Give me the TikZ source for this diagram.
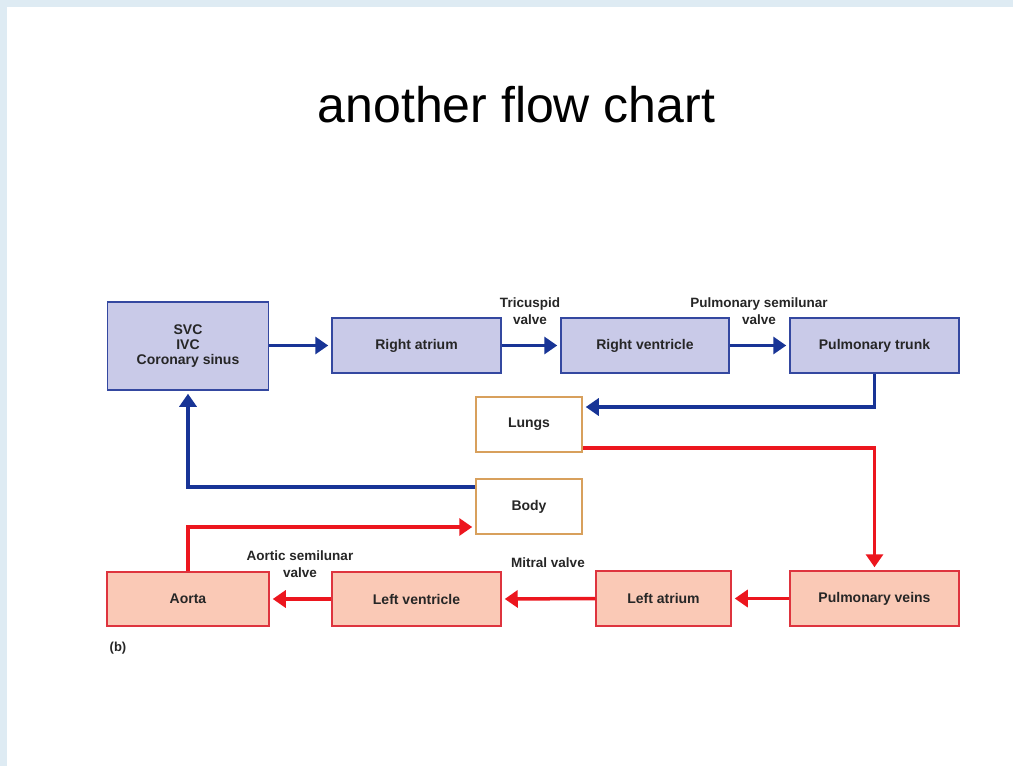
\documentclass[tikz,border=0pt]{standalone}
\usepackage{fontspec}
\setmainfont{Liberation Sans}
\usetikzlibrary{arrows.meta}
\definecolor{bgstrip}{RGB}{222,235,243}
\definecolor{bluefill}{RGB}{201,202,232}
\definecolor{blueline}{RGB}{52,72,160}
\definecolor{bluearrow}{RGB}{24,52,150}
\definecolor{redfill}{RGB}{250,201,182}
\definecolor{redline}{RGB}{222,52,62}
\definecolor{redarrow}{RGB}{236,22,30}
\definecolor{orangeline}{RGB}{216,160,92}
\tikzset{
  box/.style={draw, line width=1.5pt, align=center, inner sep=0pt,
    font=\bfseries\fontsize{14}{15}\selectfont, text=black!85},
  bluebox/.style={box, fill=bluefill, draw=blueline},
  redbox/.style={box, fill=redfill, draw=redline},
  orangebox/.style={box, fill=white, draw=orangeline},
  bluearr/.style={draw=bluearrow, line width=3.5pt,
    -{Triangle[width=17pt,length=13pt]}, shorten >=3pt},
  redarr/.style={draw=redarrow, line width=3.5pt,
    -{Triangle[width=17pt,length=13pt]}, shorten >=3pt},
  lbl/.style={align=center, inner sep=0pt, font=\bfseries\fontsize{13.5}{17}\selectfont, text=black!85}
}
\begin{document}
\begin{tikzpicture}[x=1pt,y=-1pt]
\useasboundingbox (0,0) rectangle (1013,766);
\fill[white] (0,0) rectangle (1013,766);
\fill[bgstrip] (0,0) rectangle (1013,7);
\fill[bgstrip] (0,0) rectangle (7,766);

\node[inner sep=0pt, anchor=base, font=\fontsize{50}{55}\selectfont] (title) at (516.5,122) {another flow chart};

% top row
\node[bluebox, minimum width=161pt, minimum height=88pt] (svc) at (188,346) {SVC\\IVC\\Coronary sinus};
\node[bluebox, minimum width=169pt, minimum height=55pt] (ra) at (416.5,345.5) {Right atrium};
\node[bluebox, minimum width=168pt, minimum height=55pt] (rv) at (645,345.5) {Right ventricle};
\node[bluebox, minimum width=169pt, minimum height=55pt] (pt) at (874.5,345.5) {Pulmonary trunk};

% middle
\node[orangebox, minimum width=106pt, minimum height=55pt] (lungs) at (529,424.5) {Lungs};
\node[orangebox, minimum width=106pt, minimum height=55pt] (body) at (529,506.5) {Body};

% bottom row
\node[redbox, minimum width=162pt, minimum height=54pt] (aorta) at (188,599) {Aorta};
\node[redbox, minimum width=169pt, minimum height=54pt] (lv) at (416.5,599) {Left ventricle};
\node[redbox, minimum width=135pt, minimum height=55pt] (la) at (663.5,598.5) {Left atrium};
\node[redbox, minimum width=169pt, minimum height=55pt] (pv) at (874.5,598.5) {Pulmonary veins};

% labels
\node[lbl] (tric) at (530,311.5) {Tricuspid\\valve};
\node[lbl] (pulm) at (759,311.5) {Pulmonary semilunar\\valve};
\node[lbl] (aortv) at (300,564.5) {Aortic semilunar\\valve};
\node[lbl] (mitr) at (548,563) {Mitral valve};
\node[inner sep=0pt, font=\bfseries\fontsize{13}{15}\selectfont, text=black!85] (b) at (118,648) {(b)};

% blue arrows
\draw[bluearr] (svc.east |- ra.west) -- (ra.west);
\draw[bluearr] (ra.east) -- (rv.west);
\draw[bluearr] (rv.east) -- (pt.west);
\draw[bluearr] (pt.south) |- ([yshift=17.5pt]lungs.east);
\draw[bluearr] ([yshift=19.5pt]body.west) -| (svc.south);

% red arrows
\draw[redarr] ([yshift=-23.5pt]lungs.east) -| (pv.north);
\draw[redarr] (pv.west) -- (la.east);
\draw[redarr] (la.west) -- (lv.east);
\draw[redarr] (lv.west) -- (aorta.east);
\draw[redarr] (aorta.north) |- ([yshift=-20.5pt]body.west);
\end{tikzpicture}
\end{document}
